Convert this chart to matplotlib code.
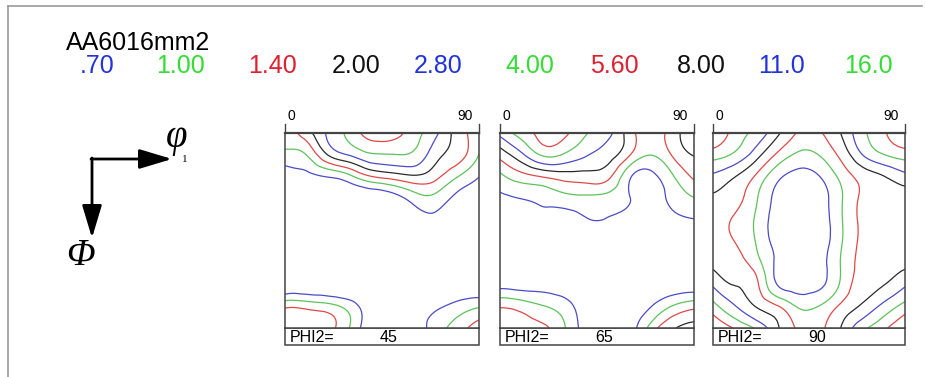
import numpy as np
import matplotlib
matplotlib.use("Agg")
import matplotlib.pyplot as plt
import matplotlib.tri as mtri
from matplotlib.patches import Rectangle

W, H = 926, 377

title = "AA6016mm2"
levels = [0.70, 1.00, 1.40, 2.00, 2.80, 4.00, 5.60, 8.00, 11.0, 16.0]
level_labels = [".70", "1.00", "1.40", "2.00", "2.80", "4.00", "5.60", "8.00", "11.0", "16.0"]
phi2_values = [45, 65, 90]

# grid nodes (degrees): phi1 along x, Phi down the panel
phi1 = [0, 10, 20, 30, 40, 50, 60, 70, 80, 90]
Phi = [0, 10, 20, 30, 40, 50, 60, 70, 80, 90]

odf_45 = [
    [1.06, 1.72, 2.97, 4.49, 6.50, 6.43, 4.63, 3.00, 1.72, 1.10],
    [0.92, 1.01, 2.05, 2.90, 3.83, 3.96, 3.70, 2.27, 1.66, 0.99],
    [0.53, 0.63, 0.72, 0.92, 1.40, 1.66, 1.91, 1.55, 1.02, 0.71],
    [0.42, 0.46, 0.51, 0.50, 0.50, 0.59, 0.83, 0.89, 0.63, 0.53],
    [0.38, 0.39, 0.40, 0.42, 0.43, 0.48, 0.57, 0.63, 0.51, 0.45],
    [0.35, 0.35, 0.35, 0.35, 0.35, 0.38, 0.42, 0.45, 0.40, 0.38],
    [0.38, 0.35, 0.35, 0.35, 0.35, 0.35, 0.35, 0.35, 0.35, 0.38],
    [0.45, 0.45, 0.43, 0.42, 0.38, 0.35, 0.38, 0.43, 0.46, 0.46],
    [1.31, 1.26, 1.14, 0.86, 0.51, 0.45, 0.55, 0.65, 0.80, 0.96],
    [1.72, 1.61, 1.55, 0.99, 0.50, 0.45, 0.57, 0.83, 1.18, 1.66],
]
odf_65 = [
    [3.11, 4.71, 6.21, 6.00, 4.10, 3.11, 1.66, 1.18, 1.66, 2.61],
    [1.61, 2.61, 4.24, 3.83, 2.90, 2.36, 1.45, 1.01, 1.45, 2.05],
    [0.92, 1.22, 1.45, 1.66, 1.72, 1.55, 0.75, 0.63, 0.96, 1.50],
    [0.65, 0.71, 0.78, 0.89, 0.94, 0.89, 0.71, 0.59, 0.78, 0.99],
    [0.50, 0.53, 0.59, 0.57, 0.68, 0.68, 0.57, 0.50, 0.61, 0.69],
    [0.42, 0.42, 0.43, 0.45, 0.46, 0.46, 0.43, 0.40, 0.45, 0.51],
    [0.46, 0.40, 0.39, 0.38, 0.36, 0.35, 0.35, 0.35, 0.39, 0.42],
    [0.61, 0.57, 0.57, 0.51, 0.43, 0.39, 0.40, 0.46, 0.51, 0.53],
    [1.35, 1.22, 1.02, 0.83, 0.53, 0.43, 0.50, 0.69, 1.02, 1.26],
    [1.61, 1.55, 1.50, 1.02, 0.57, 0.45, 0.57, 1.14, 1.91, 2.27],
]
odf_90 = [
    [7.92, 4.98, 3.57, 2.18, 1.35, 1.35, 2.02, 3.63, 5.32, 7.92],
    [4.71, 3.76, 2.36, 1.33, 0.94, 1.02, 1.55, 2.80, 3.96, 4.71],
    [2.61, 2.05, 1.35, 0.78, 0.61, 0.70, 1.10, 1.61, 1.98, 2.52],
    [1.91, 1.61, 1.06, 0.63, 0.53, 0.59, 0.96, 1.50, 1.78, 1.72],
    [1.66, 1.35, 0.96, 0.59, 0.51, 0.57, 0.96, 1.50, 1.72, 1.72],
    [1.66, 1.40, 0.99, 0.61, 0.51, 0.57, 0.96, 1.50, 1.72, 1.66],
    [1.85, 1.61, 1.18, 0.65, 0.53, 0.61, 1.02, 1.55, 1.78, 1.85],
    [2.66, 1.98, 1.55, 0.70, 0.59, 0.65, 1.06, 1.66, 1.98, 2.66],
    [4.55, 2.90, 1.98, 1.45, 0.96, 1.02, 1.50, 2.12, 3.11, 4.55],
    [7.92, 5.50, 3.83, 2.12, 1.33, 1.31, 2.02, 3.57, 5.23, 7.92],
]
sections = [odf_45, odf_65, odf_90]

text_colors = ["#2233dd", "#33dd33", "#e02030", "#111111"]
line_colors = ["#4b4bc8", "#5cc35c", "#e04848", "#2a2a2a"]

# panel boxes in pixels (left, top, right, bottom)
panels = [(285, 133, 479, 328), (500, 133, 694, 328), (713, 133, 905, 328)]
label_x = [97.5, 180, 272, 356, 438, 530, 614, 701, 782, 868]


def px_box(x0, y0, x1, y1):
    return [x0 / W, 1 - y1 / H, (x1 - x0) / W, (y1 - y0) / H]


fig = plt.figure(figsize=(W / 100, H / 100), dpi=100)
fig.patch.set_facecolor("white")
bg = fig.add_axes([0, 0, 1, 1])
bg.set_xlim(0, W)
bg.set_ylim(H, 0)
bg.axis("off")

# outer frame
bg.plot([8, 8], [6, H], color="#999999", lw=1.2)
bg.plot([8, 922], [6, 6], color="#999999", lw=1.2)

# header
sans = "Liberation Sans"
bg.text(66, 43, title, fontsize=18, family=sans, ha="left", va="center")
for i, lab in enumerate(level_labels):
    bg.text(label_x[i], 66, lab, fontsize=18, family=sans, ha="center", va="center",
            color=text_colors[i % 4])

# axes symbols
arrow = dict(arrowstyle="-|>,head_length=1.0,head_width=0.3", lw=2, color="k",
             mutation_scale=20, shrinkA=0, shrinkB=0)
bg.annotate("", xy=(172, 159), xytext=(91, 159), arrowprops=arrow)
bg.annotate("", xy=(92, 238), xytext=(92, 158), arrowprops=arrow)
bg.text(177, 137, "\u03c6", fontsize=28, family="Liberation Serif", style="italic",
        ha="center", va="center")
bg.text(185, 160, "1", fontsize=8, family="Liberation Serif", ha="center", va="center")
bg.text(80, 256, "\u03a6", fontsize=27, family="Liberation Serif", style="italic",
        ha="center", va="center")

# sections
X, Y = np.meshgrid(phi1, Phi)
tri = mtri.Triangulation(X.ravel(), Y.ravel())
refiner = mtri.UniformTriRefiner(tri)
log_levels = np.log(levels)
cols = [line_colors[i % 4] for i in range(len(levels))]

for k, (x0, y0, x1, y1) in enumerate(panels):
    z = np.log(np.array(sections[k])).ravel()
    interp = mtri.CubicTriInterpolator(tri, z, kind="min_E")
    tri_r, z_r = refiner.refine_field(z, triinterpolator=interp, subdiv=3)

    ax = fig.add_axes(px_box(x0, y0, x1, y1))
    ax.tricontour(tri_r, z_r, levels=log_levels, colors=cols, linewidths=0.9)
    ax.set_xlim(0, 90)
    ax.set_ylim(90, 0)
    ax.set_xticks([])
    ax.set_yticks([])
    for s in ax.spines.values():
        s.set_color("#444444")
        s.set_linewidth(1.1)
    ax.spines["top"].set_linewidth(1.6)

    # top ticks and labels
    bg.plot([x0, x0], [124, y0], color="#444444", lw=1.0)
    bg.plot([x1, x1], [124, y0], color="#444444", lw=1.0)
    bg.text(x0 + 6, 116, "0", fontsize=10, family=sans, ha="center", va="center")
    bg.text(x1 - 14, 116, "90", fontsize=10, family=sans, ha="center", va="center")

    # PHI2 label box
    bg.add_patch(Rectangle((x0, y1), x1 - x0, 17, fill=False, ec="#444444", lw=1.1))
    bg.text(x0 + 5, y1 + 9, "PHI2=", fontsize=11.5, family=sans, ha="left", va="center")
    bg.text(x0 + 104, y1 + 9, str(phi2_values[k]), fontsize=11.5, family=sans,
            ha="center", va="center")

fig.savefig("out.png", dpi=100, facecolor="white")
